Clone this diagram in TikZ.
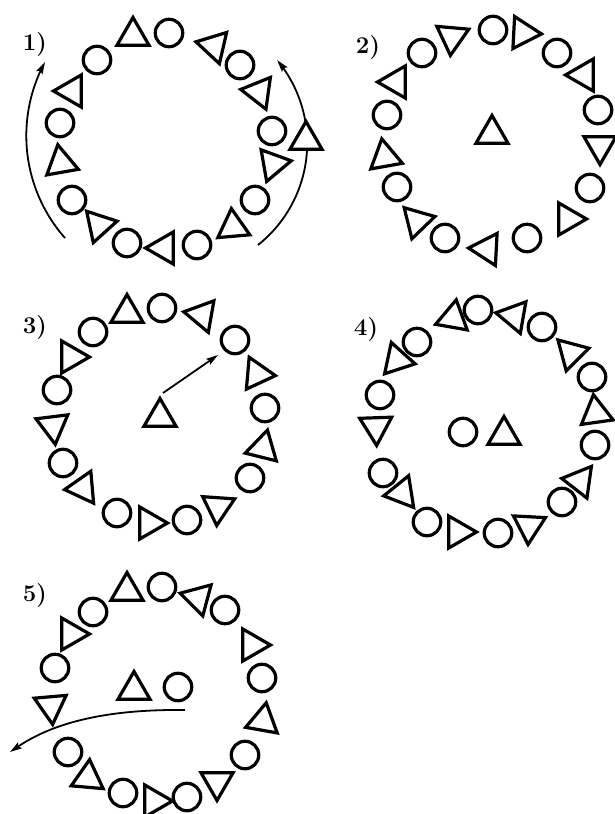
\documentclass[tikz,border=0pt]{standalone}
\usetikzlibrary{shapes.geometric,arrows.meta}
\begin{document}
\begin{tikzpicture}[x=1pt,y=-1pt,
 ci/.style={circle,draw,line width=3.2pt,minimum size=27.5pt,inner sep=0pt,fill=white},
 tri/.style={regular polygon,regular polygon sides=3,draw,line width=3.2pt,minimum size=37pt,inner sep=0pt,fill=white,rotate=#1-90},
 arr/.style={line width=1.8pt,-{Stealth[length=12pt,width=7pt,inset=2pt]}},
 lbl/.style={font=\fontsize{24}{28}\selectfont\bfseries,inner sep=0pt}]
\useasboundingbox (0,0) rectangle (614,814);
% ---------- panel 1 arcs ----------
\draw[arr] plot[domain=0:1,samples=60,variable=\t] ({181+154.7*cos(138.6+69.9*\t)},{135.7+154.7*sin(138.6+69.9*\t)});
\draw[arr] plot[domain=0:1,samples=60,variable=\t] ({177.3+129.9*cos(51.6-91.4*\t)},{143.2+129.9*sin(51.6-91.4*\t)});
% ---------- panel 1 ----------
\node[lbl] (l1) at (35,45) {1)};
\node[ci] (p1c1) at (97,60) {};
\node[tri=90] (p1t1) at (133,36) {};
\node[ci] (p1c2) at (169,33) {};
\node[tri=47] (p1t2) at (214,46) {};
\node[ci] (p1c3) at (240,65) {};
\node[tri=52] (p1t3) at (259,92) {};
\node[ci] (p1c4) at (272,131) {};
\node[tri=90] (p1t4) at (306,140) {};
\node[tri=10] (p1t5) at (273,164) {};
\node[ci] (p1c5) at (255,200) {};
\node[tri=95] (p1t6) at (233,227) {};
\node[ci] (p1c6) at (197,245) {};
\node[tri=60] (p1t7) at (164,248) {};
\node[ci] (p1c7) at (127,243) {};
\node[tri=12] (p1t8) at (99,225) {};
\node[ci] (p1c8) at (72,200) {};
\node[tri=100] (p1t9) at (61,163) {};
\node[ci] (p1c9) at (60,123) {};
\node[tri=60] (p1t10) at (72,91) {};
% ---------- panel 2 ----------
\node[lbl] (l2) at (368,48) {2)};
\node[ci] (p2c1) at (422,53) {};
\node[tri=25] (p2t1) at (452,37) {};
\node[ci] (p2c2) at (493,30) {};
\node[tri=-3] (p2t2) at (523,33) {};
\node[ci] (p2c3) at (557,53) {};
\node[tri=60] (p2t3) at (584,75) {};
\node[ci] (p2c4) at (598,110) {};
\node[tri=30] (p2t4) at (600,146) {};
\node[ci] (p2c5) at (590,188) {};
\node[tri=0] (p2t5) at (568,219) {};
\node[ci] (p2c6) at (527,238) {};
\node[tri=57] (p2t6) at (487,249) {};
\node[ci] (p2c7) at (445,238) {};
\node[tri=14] (p2t7) at (417,221) {};
\node[ci] (p2c8) at (397,187) {};
\node[tri=100] (p2t8) at (385,157) {};
\node[ci] (p2c9) at (387,115) {};
\node[tri=60] (p2t9) at (396,82) {};
\node[tri=90] (p2t0) at (492,134) {};
% ---------- panel 3 ----------
\node[lbl] (l3) at (35,328) {3)};
\node[ci] (p3c1) at (93,332) {};
\node[tri=90] (p3t1) at (127,313) {};
\node[ci] (p3c2) at (162,308) {};
\node[tri=50] (p3t2) at (202,315) {};
\node[ci] (p3c3) at (235,340) {};
\node[tri=-5] (p3t3) at (257,374) {};
\node[ci] (p3c4) at (265,408) {};
\node[tri=76] (p3t4) at (263,448) {};
\node[ci] (p3c5) at (250,478) {};
\node[tri=26] (p3t5) at (218,507) {};
\node[ci] (p3c6) at (187,520) {};
\node[tri=0] (p3t6) at (149,523) {};
\node[ci] (p3c7) at (117,513) {};
\node[tri=65] (p3t7) at (83,488) {};
\node[ci] (p3c8) at (63,463) {};
\node[tri=37] (p3t8) at (53,426) {};
\node[ci] (p3c9) at (57,390) {};
\node[tri=0] (p3t9) at (71,357) {};
\node[tri=90] (p3t0) at (160,417) {};
\coordinate (a3s) at (163,393);
\coordinate (a3e) at (218,355);
\draw[arr] (a3s) -- (a3e);
% ---------- panel 4 ----------
\node[lbl] (l4) at (366,330) {4)};
\node[tri=108] (p4t1) at (397,360) {};
\node[ci] (p4c1) at (417,342) {};
\node[tri=80] (p4t2) at (453,318) {};
\node[ci] (p4c2) at (478,310) {};
\node[tri=50] (p4t3) at (514,316) {};
\node[ci] (p4c3) at (542,327) {};
\node[tri=15] (p4t4) at (571,353) {};
\node[ci] (p4c4) at (592,377) {};
\node[tri=98] (p4t5) at (596,413) {};
\node[ci] (p4c5) at (595,445) {};
\node[tri=52] (p4t6) at (580,481) {};
\node[ci] (p4c6) at (562,502) {};
\node[tri=27] (p4t7) at (529,526) {};
\node[ci] (p4c7) at (498,533) {};
\node[tri=0] (p4t8) at (458,532) {};
\node[ci] (p4c8) at (427,522) {};
\node[tri=69] (p4t9) at (402,493) {};
\node[ci] (p4c9) at (383,473) {};
\node[tri=32] (p4t10) at (376,427) {};
\node[ci] (p4c10) at (380,395) {};
\node[ci] (p4c0) at (463,432) {};
\node[tri=90] (p4t0) at (504,435) {};
% ---------- panel 5 ----------
\coordinate (a5s) at (185,710);
\coordinate (a5e) at (10,752);
\draw[arr] (a5s) .. controls (100,709) and (50,725) .. (a5e);
\node[lbl] (l5) at (35,596) {5)};
\node[ci] (p5c1) at (93,612) {};
\node[tri=90] (p5t1) at (127,591) {};
\node[ci] (p5c2) at (162,587) {};
\node[tri=45] (p5t2) at (198,598) {};
\node[ci] (p5c3) at (225,610) {};
\node[tri=0] (p5t3) at (252,645) {};
\node[ci] (p5c4) at (262,678) {};
\node[tri=80] (p5t4) at (263,721) {};
\node[ci] (p5c5) at (245,755) {};
\node[tri=30] (p5t5) at (217,782) {};
\node[ci] (p5c6) at (187,797) {};
\node[tri=0] (p5t6) at (154,801) {};
\node[ci] (p5c7) at (123,793) {};
\node[tri=85] (p5t7) at (88,778) {};
\node[ci] (p5c8) at (68,752) {};
\node[tri=35] (p5t8) at (51,706) {};
\node[ci] (p5c9) at (55,668) {};
\node[tri=0] (p5t9) at (71,634) {};
\node[tri=90] (p5t0) at (134,690) {};
\node[ci] (p5c0) at (178,687) {};
\end{tikzpicture}
\end{document}
